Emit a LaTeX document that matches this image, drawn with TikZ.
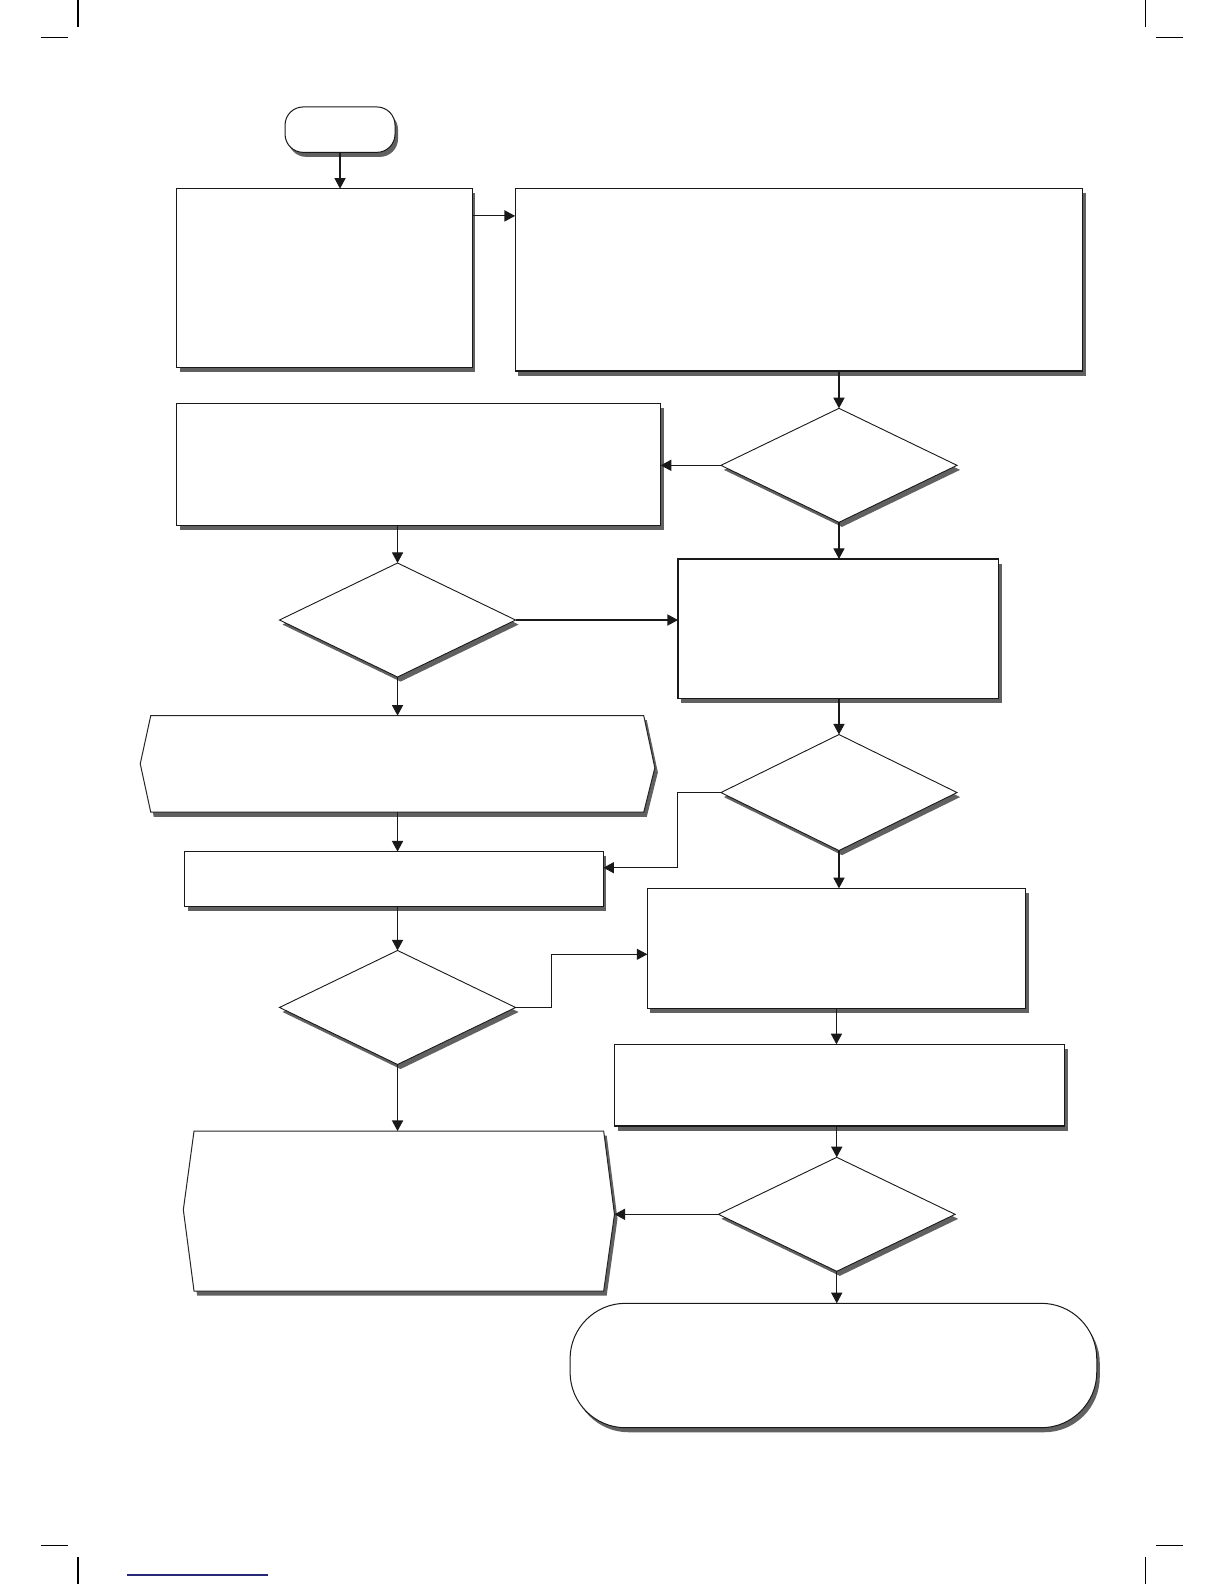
\documentclass[tikz,border=0pt]{standalone}
\usetikzlibrary{shapes.geometric,shadows,arrows.meta,calc}
\definecolor{navyline}{RGB}{40,40,120}
\begin{document}
\begin{tikzpicture}[x=1pt,y=-1pt,
  shad/.style={drop shadow={shadow xshift=3pt,shadow yshift=-4.5pt,opacity=1,fill=black!62}},
  procbox/.style={rectangle,draw=black!90,line width=1.1pt,fill=white,inner sep=0pt,outer sep=0pt,shad},
  decbox/.style={diamond,draw=black!90,line width=0.9pt,fill=white,inner sep=0pt,outer sep=0pt,minimum width=234pt,minimum height=113pt,shad},
  termbox/.style={rectangle,draw=black!90,line width=1pt,fill=white,inner sep=0pt,outer sep=0pt,shad},
  hexframe/.style={draw=black!85,line width=1pt,fill=white,shad},
  anchorbox/.style={rectangle,inner sep=0pt,outer sep=0pt},
  arr/.style={line width=1.1pt,draw=black!90,-{Triangle[length=10.5pt,width=11pt]}},
  crop/.style={line width=1pt,draw=black}
]
\useasboundingbox (0,0) rectangle (1213.1,1569.9);
\fill[white] (0,0) rectangle (1213.1,1569.9);

% crop marks
\draw[crop] (77.3,0) -- (77.3,26.6);
\draw[crop] (40.6,36.8) -- (67.4,36.8);
\draw[crop] (1134.8,0) -- (1134.8,26.6);
\draw[crop] (1145.7,36.8) -- (1172.4,36.8);
\draw[crop] (40.6,1532.2) -- (67.4,1532.2);
\draw[crop] (77.3,1543) -- (77.3,1569.9);
\draw[crop] (1145.7,1532.2) -- (1172.4,1532.2);
\draw[crop] (1134.8,1543) -- (1134.8,1569.9);
\draw[line width=1.3pt,draw=navyline] (125.9,1561) -- (265.6,1561);

% shapes
\node[termbox,rounded corners=18pt,minimum width=109pt,minimum height=45pt] (start) at (337,128.5) {};
\node[procbox,minimum width=293pt,minimum height=177pt] (b1) at (321.5,275.5) {};
\node[procbox,minimum width=562.5pt,minimum height=180.7pt] (b2) at (791.75,277.35) {};
\node[decbox] (d1) at (831.5,461.2) {};
\node[procbox,minimum width=479.8pt,minimum height=121pt] (b3) at (414.9,460.5) {};
\node[decbox] (d2) at (394,614.5) {};
\node[procbox,minimum width=318pt,minimum height=138pt] (b4) at (831,623) {};
\node[decbox,minimum height=115pt] (d3) at (831.5,785.5) {};
\draw[hexframe] (149.4,709.3) -- (638,709.3) -- (649,761) -- (638,805) -- (149.4,805) -- (139,757) -- cycle;
\node[anchorbox,minimum width=510pt,minimum height=95.7pt] (hex1) at (394,757.15) {};
\node[procbox,minimum width=415pt,minimum height=54pt] (b5) at (390.5,871) {};
\node[procbox,minimum width=374.8pt,minimum height=118.9pt] (b6) at (829,939.85) {};
\node[decbox] (d4) at (394,998.5) {};
\node[procbox,minimum width=446pt,minimum height=81pt] (b7) at (832,1075.5) {};
\node[decbox,minimum width=234.6pt] (d5) at (829.3,1203.5) {};
\draw[hexframe] (192.3,1121) -- (598.3,1121) -- (609,1203.5) -- (598.3,1279.5) -- (192.3,1279.5) -- (181.7,1199) -- cycle;
\node[anchorbox,minimum width=427.3pt,minimum height=158.5pt] (hex2) at (395.35,1200.25) {};
\node[termbox,rounded corners=55pt,minimum width=522pt,minimum height=123.3pt] (term2) at (826,1353.35) {};

% elbow points
\coordinate (e3) at (671.6,860);
\coordinate (e4) at (546.7,945.8);

% connectors
\draw[arr] (start.south) -- (start.south |- b1.north);
\draw[arr] ([yshift=-27pt]b1.north east) -- ([yshift=-27pt]b2.north west);
\draw[arr] (d1.north |- b2.south) -- (d1.north);
\draw[arr] (d1.west) -- (d1.west -| b3.east);
\draw[arr] (d2.north |- b3.south) -- (d2.north);
\draw[arr] (d1.south) -- (d1.south |- b4.north);
\draw[arr] (d2.east) -- (d2.east -| b4.west);
\draw[arr] (d3.north |- b4.south) -- (d3.north);
\draw[arr] (d2.south) -- (d2.south |- hex1.north);
\draw[arr] (d2.south |- hex1.south) -- (d2.south |- b5.north);
\draw[arr] (d3.west) -| (e3) -- (e3 -| b5.east);
\draw[arr] (d3.south) -- (d3.south |- b6.north);
\draw[arr] (d4.north |- b5.south) -- (d4.north);
\draw[arr] (d4.east) -| (e4) -- (e4 -| b6.west);
\draw[arr] (d4.south) -- (d4.south |- hex2.north);
\draw[arr] (b6.south) -- (b6.south |- b7.north);
\draw[arr] (d5.north |- b7.south) -- (d5.north);
\draw[arr] (d5.west) -- (d5.west -| hex2.east);
\draw[arr] (d5.south) -- (d5.south |- term2.north);
\end{tikzpicture}
\end{document}
